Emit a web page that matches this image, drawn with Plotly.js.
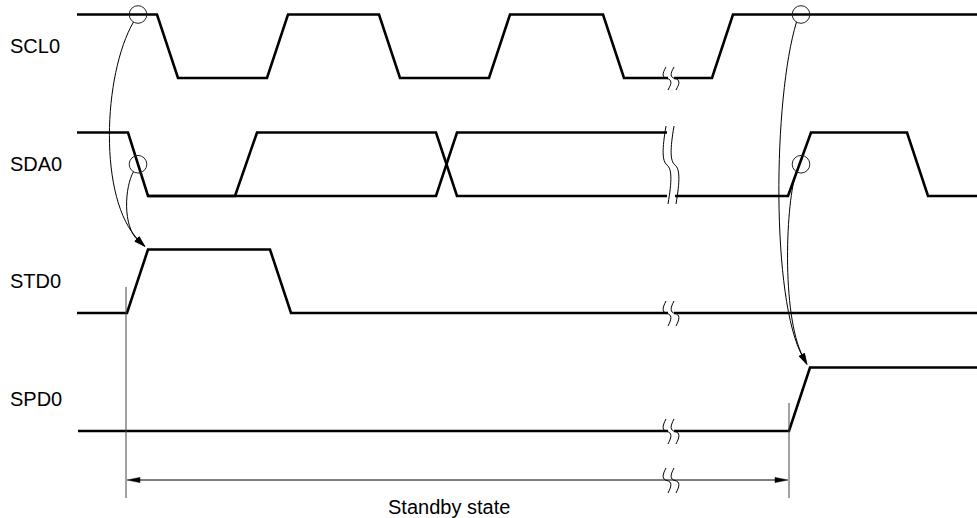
<!DOCTYPE html>
<html>
<head>
<meta charset="utf-8">
<script src="https://cdn.plot.ly/plotly-3.0.1.min.js"></script>
<style>html,body{margin:0;padding:0;background:#fff;}#chart{width:977px;height:518px;}</style>
</head>
<body>
<div id="chart"></div>
<script>
// ---- Signal names ----
const signalNames = ["SCL0", "SDA0", "STD0", "SPD0"];

// ---- Waveforms: transition times and logic levels (0 = low, 1 = high) ----
const sclTimes  = [77, 157, 178, 267, 288, 379, 400, 489, 510, 603, 624, 712, 733, 977];
const sclLevels = [1, 1, 0, 0, 1, 1, 0, 0, 1, 1, 0, 0, 1, 1];

const sdaATimes  = [77, 128, 148, 436, 457, 667];
const sdaALevels = [1, 1, 0, 0, 1, 1];
const sdaBTimes  = [148, 235, 257, 436, 457, 667];
const sdaBLevels = [0, 0, 1, 1, 0, 0];
const sdaCTimes  = [675, 788, 811, 907, 928, 977];
const sdaCLevels = [0, 0, 1, 1, 0, 0];

const stdTimes  = [77, 127, 148, 270, 291, 977];
const stdLevels = [0, 0, 1, 1, 0, 0];

const spdTimes  = [78, 789, 810, 977];
const spdLevels = [0, 0, 1, 1];

// ---- Events ----
const breakTime = 667;                       // time-axis break
const standbyStart = 126, standbyEnd = 789;  // standby interval
const standbyLabel = "Standby state";
// circled trigger points: time, signal index, level fraction
const triggerTimes   = [138, 138, 801, 801];
const triggerSignals = [0, 1, 0, 1];
const triggerLevels  = [1, 0.5, 1, 0.5];
// result points the arrows point at: time, signal index
const resultTimes   = [148, 148, 810, 810];
const resultSignals = [2, 2, 3, 3];

// ---- Layout helpers (pixel geometry) ----
const rowLow = [78, 196, 313, 431];
const amp = 63.5;
function yOf(sig, lvl) { return rowLow[sig] - lvl * amp; }

const traces = [];
function addWave(times, levels, sig) {
  traces.push({
    x: times, y: levels.map(v => yOf(sig, v)),
    mode: "lines", type: "scatter", hoverinfo: "skip",
    line: {color: "#000", width: 2.6, shape: "linear"}
  });
}
addWave(sclTimes, sclLevels, 0);
addWave(sdaATimes, sdaALevels, 1);
addWave(sdaBTimes, sdaBLevels, 1);
addWave(sdaCTimes, sdaCLevels, 1);
addWave(stdTimes, stdLevels, 2);
addWave(spdTimes, spdLevels, 3);

const shapes = [];
const annotations = [];

// break marks
function wavy(x, y0, y1) {
  const h = y1 - y0;
  return `M ${x-1} ${y0} C ${x-5} ${y0+h*0.3}, ${x-5} ${y0+h*0.45}, ${x} ${y0+h*0.5} ` +
         `C ${x+5} ${y0+h*0.55}, ${x+5} ${y0+h*0.7}, ${x+1} ${y1}`;
}
function breakMark(y0, y1, yline) {
  shapes.push({type: "rect", x0: breakTime + 1, x1: breakTime + 7, y0: yline - 3, y1: yline + 3,
    fillcolor: "#fff", line: {width: 0}, layer: "above"});
  [breakTime, breakTime + 8].forEach(x => {
    shapes.push({type: "path", path: wavy(x, y0, y1), line: {color: "#000", width: 1}, layer: "above"});
  });
}
breakMark(67, 90, yOf(0, 0));
breakMark(126, 204, yOf(1, 0));
breakMark(301, 326, yOf(2, 0));
breakMark(419, 444, yOf(3, 0));
breakMark(468, 493, 480);

// vertical reference lines
shapes.push({type: "line", x0: standbyStart, x1: standbyStart, y0: 287, y1: 498, line: {color: "#444", width: 1}});
shapes.push({type: "line", x0: standbyEnd, x1: standbyEnd, y0: 403, y1: 498, line: {color: "#444", width: 1}});

// standby dimension arrow
const ya = 480;
shapes.push({type: "line", x0: standbyStart + 10, x1: standbyEnd - 10, y0: ya, y1: ya, line: {color: "#000", width: 1}});
shapes.push({type: "path", path: `M ${standbyStart+1} ${ya} L ${standbyStart+14} ${ya-2.6} L ${standbyStart+14} ${ya+2.6} Z`,
  fillcolor: "#000", line: {color: "#000", width: 0.5}});
shapes.push({type: "path", path: `M ${standbyEnd-1} ${ya} L ${standbyEnd-14} ${ya-2.6} L ${standbyEnd-14} ${ya+2.6} Z`,
  fillcolor: "#000", line: {color: "#000", width: 0.5}});

// trigger circles and curved arrows
const ctrl = [
  [[-35, 60], [-40, 185]],
  [[-13, 22], [-16, 62]],
  [[-28, 85], [-30, 285]],
  [[-15, 35], [-20, 150]]
];
for (let i = 0; i < triggerTimes.length; i++) {
  const cx = triggerTimes[i], cy = yOf(triggerSignals[i], triggerLevels[i]);
  const r = 8.8;
  shapes.push({type: "circle", x0: cx - r, x1: cx + r, y0: cy - r, y1: cy + r, line: {color: "#222", width: 1}});
  const sx = cx - 4.5, sy = cy + 7.5;
  const tx = resultTimes[i] - 3, ty = yOf(resultSignals[i], 1) - 3;
  const p1 = [cx + ctrl[i][0][0], cy + ctrl[i][0][1]];
  const p2 = [cx + ctrl[i][1][0], cy + ctrl[i][1][1]];
  let dx = tx - p2[0], dy = ty - p2[1];
  const L = Math.hypot(dx, dy); dx /= L; dy /= L;
  const ah = 11, aw = 3;
  const bx = tx - dx * ah, by = ty - dy * ah;
  shapes.push({type: "path",
    path: `M ${sx} ${sy} C ${p1[0]} ${p1[1]}, ${p2[0]} ${p2[1]}, ${bx + dx*2} ${by + dy*2}`,
    line: {color: "#000", width: 1}});
  shapes.push({type: "path",
    path: `M ${tx} ${ty} L ${bx - dy*aw} ${by + dx*aw} L ${bx + dy*aw} ${by - dx*aw} Z`,
    fillcolor: "#000", line: {color: "#000", width: 0.5}});
}

// labels
const labelFont = {family: "Liberation Sans, Arial, sans-serif", size: 20, color: "#000"};
signalNames.forEach((name, i) => {
  annotations.push({x: 8, y: (yOf(i, 0) + yOf(i, 1)) / 2, xref: "x", yref: "y", text: name,
    showarrow: false, xanchor: "left", yanchor: "middle", font: labelFont});
});
annotations.push({x: 449, y: 507, xref: "x", yref: "y", text: standbyLabel,
  showarrow: false, xanchor: "center", yanchor: "middle", font: labelFont});

const layout = {
  width: 977, height: 518,
  margin: {l: 0, r: 0, t: 0, b: 0, pad: 0},
  paper_bgcolor: "#fff", plot_bgcolor: "#fff",
  showlegend: false,
  xaxis: {range: [0, 977], visible: false, fixedrange: true},
  yaxis: {range: [518, 0], visible: false, fixedrange: true},
  shapes: shapes, annotations: annotations
};
Plotly.newPlot("chart", traces, layout, {staticPlot: true, displayModeBar: false});
</script>
</body>
</html>
